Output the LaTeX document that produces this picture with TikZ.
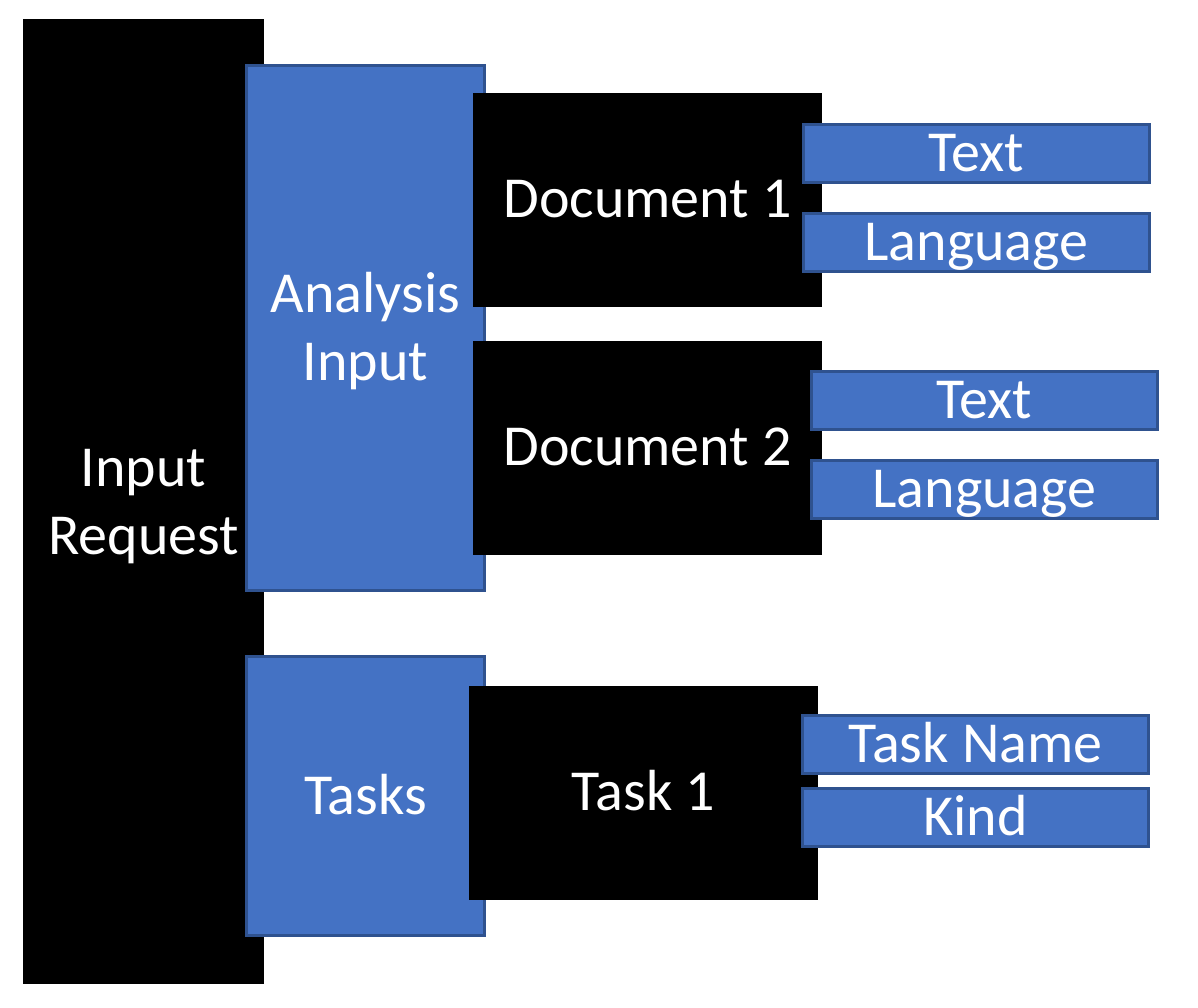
\documentclass[tikz,border=0pt]{standalone}
\usepackage{fontspec}
\setmainfont{Carlito}
\definecolor{boxblue}{HTML}{4472C4}
\definecolor{boxedge}{HTML}{2F528F}
\begin{document}
\begin{tikzpicture}[x=1pt,y=-1pt,
  base/.style={inner sep=0pt, outer sep=0pt, text=white, align=center,
    font=\fontsize{58}{68}\selectfont, text height=36.6pt, text depth=0pt},
  twoline/.style={text height=105pt, text depth=0pt},
  blk/.style={base, fill=black, draw=none},
  blu/.style={base, fill=boxblue, draw=boxedge, line width=3pt},
  leaf/.style={blu, minimum width=346pt, minimum height=58pt},
  mid/.style={blk, minimum width=349pt, minimum height=214pt}]
\fill[white] (0,0) rectangle (1198,1007);
\useasboundingbox (0,0) rectangle (1198,1007);
% level 1
\node[blk, twoline, minimum width=241pt, minimum height=965pt] (ir) at (143.5,501.5) {Input\\Request};
% level 2
\node[blu, twoline, minimum width=238pt, minimum height=525pt] (ai) at (365.5,328) {Analysis\\Input};
\node[blu, minimum width=238pt, minimum height=279pt] (tasks) at (365.5,796) {Tasks};
% level 3
\node[mid] (d1) at (647.5,199.5) {Document 1};
\node[mid] (d2) at (647.5,447.5) {Document 2};
\node[mid] (t1) at (643.5,792.5) {Task 1};
% level 4
\node[leaf] (d1text) at (976.5,153.5) {Text};
\node[leaf] (d1lang) at (976.5,242.5) {Language};
\node[leaf] (d2text) at (984.5,400.5) {Text};
\node[leaf] (d2lang) at (984.5,489.5) {Language};
\node[leaf] (t1name) at (975.5,744.5) {Task Name};
\node[leaf] (t1kind) at (975.5,817.5) {Kind};
\end{tikzpicture}
\end{document}
